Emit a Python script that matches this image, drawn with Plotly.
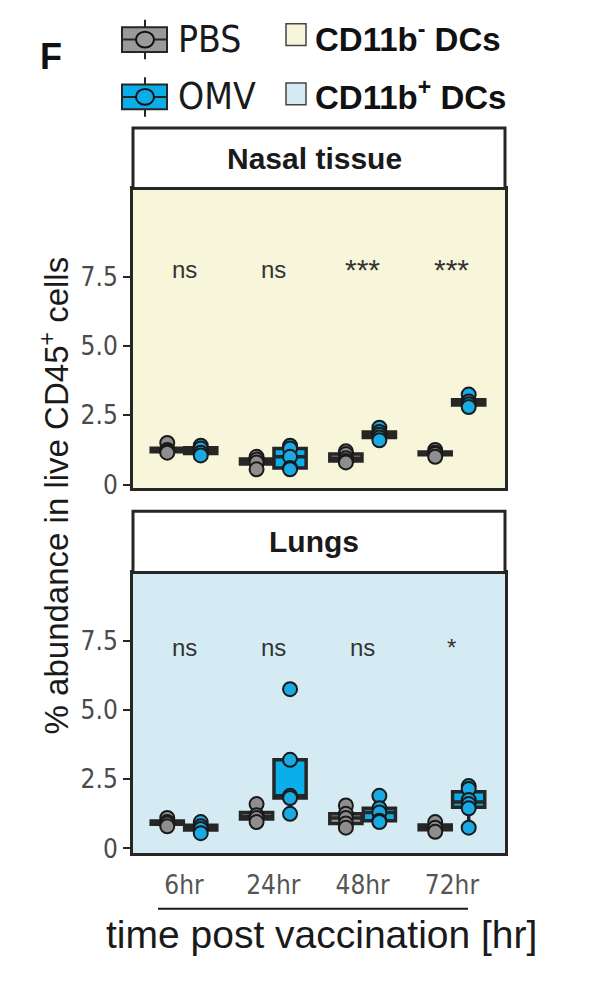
import numpy as np
import plotly.graph_objects as go

W, H = 599, 987

categories = ["6hr", "24hr", "48hr", "72hr"]

# % of live CD45+ cells, one list of replicates per time point
nasal_pbs = [[1.5, 1.25, 1.2, 1.15], [1.0, 0.9, 0.8, 0.55],
             [1.2, 1.1, 0.95, 0.85, 0.8], [1.25, 1.15, 1.1, 1.0]]
nasal_omv = [[1.4, 1.3, 1.15, 1.05], [1.4, 1.3, 1.0, 0.6, 0.55],
             [2.05, 1.9, 1.8, 1.7, 1.6], [3.25, 3.0, 2.9, 2.8]]
lung_pbs = [[1.1, 0.95, 0.9, 0.8], [1.6, 1.2, 1.1, 0.95],
            [1.55, 1.25, 1.1, 0.9, 0.75], [0.95, 0.75, 0.6]]
lung_omv = [[0.95, 0.8, 0.7, 0.55], [5.75, 3.2, 1.9, 1.82, 1.25],
            [1.9, 1.45, 1.3, 1.0, 0.95], [2.25, 2.15, 1.75, 1.6, 1.45, 0.75]]

nasal_sig = ["ns", "ns", "***", "***"]
lung_sig = ["ns", "ns", "ns", "*"]

y_ticks = [0, 2.5, 5.0, 7.5]
y_ticklabels = ["0", "2.5", "5.0", "7.5"]

PBS_FILL = "#9a9a9a"
PBS_PT = "#8e8e8e"
OMV_FILL = "#0aaee8"
OMV_PT = "#19a9e3"
EDGE = "#262626"
NASAL_BG = "#f7f5da"
LUNG_BG = "#d5ebf3"

NARROW = "Liberation Sans Narrow, DejaVu Sans Condensed, Liberation Sans, Arial"
SANS = "Liberation Sans, Arial, Helvetica"

DODGE = 0.1875
BOXW = 0.36


def px_x(p):
    return p / W


def px_y(p):
    return 1 - p / H


def box_stats(vals):
    v = np.sort(np.asarray(vals, float))
    q1, med, q3 = np.percentile(v, [25, 50, 75])
    iqr = q3 - q1
    lo = v[v >= q1 - 1.5 * iqr].min()
    hi = v[v <= q3 + 1.5 * iqr].max()
    return q1, med, q3, lo, hi


fig = go.Figure()


def add_group(data, offset, fill, ptcol, xa, ya):
    stats = np.array([box_stats(d) for d in data])
    pos = [i + offset for i in range(len(data))]
    fig.add_trace(go.Box(
        x=pos, q1=stats[:, 0], median=stats[:, 1], q3=stats[:, 2],
        lowerfence=stats[:, 3], upperfence=stats[:, 4],
        width=BOXW, whiskerwidth=0, fillcolor=fill,
        line=dict(color=EDGE, width=3.5), boxpoints=False,
        xaxis=xa, yaxis=ya, showlegend=False, hoverinfo="skip"))
    xs, ys = [], []
    for i, d in enumerate(data):
        xs += [i + offset] * len(d)
        ys += list(d)
    fig.add_trace(go.Scatter(
        x=xs, y=ys, mode="markers", xaxis=xa, yaxis=ya, showlegend=False,
        marker=dict(size=14, color=ptcol, line=dict(color="#1a1a1a", width=2))))


add_group(nasal_pbs, -DODGE, PBS_FILL, PBS_PT, "x", "y")
add_group(nasal_omv, DODGE, OMV_FILL, OMV_PT, "x", "y")
add_group(lung_pbs, -DODGE, PBS_FILL, PBS_PT, "x2", "y2")
add_group(lung_omv, DODGE, OMV_FILL, OMV_PT, "x2", "y2")

xrange = [-0.571, 3.594]
xdom = [px_x(133), px_x(505)]
frame = dict(showline=True, mirror=True, linecolor=EDGE, linewidth=3,
             showgrid=False, zeroline=False)

fig.update_layout(
    width=W, height=H, margin=dict(l=0, r=0, t=0, b=0),
    paper_bgcolor="white", plot_bgcolor="rgba(0,0,0,0)",
    xaxis=dict(domain=xdom, range=xrange, anchor="y", showticklabels=False,
               ticks="", **frame),
    yaxis=dict(domain=[px_y(494), px_y(190.7)], range=[-0.143, 10.69],
               anchor="x", tickvals=y_ticks, ticktext=y_ticklabels,
               ticks="outside", ticklen=7, tickwidth=2, tickcolor=EDGE,
               tickfont=dict(family=NARROW, size=26, color="#4a4a4a"), **frame),
    xaxis2=dict(domain=xdom, range=xrange, anchor="y2", tickvals=[0, 1, 2, 3],
                ticktext=categories, ticks="", ticklabelstandoff=6,
                tickfont=dict(family=NARROW, size=26, color="#555555"), **frame),
    yaxis2=dict(domain=[px_y(863), px_y(579)], range=[-0.179, 9.96],
                anchor="x2", tickvals=y_ticks, ticktext=y_ticklabels,
                ticks="outside", ticklen=7, tickwidth=2, tickcolor=EDGE,
                tickfont=dict(family=NARROW, size=26, color="#4a4a4a"), **frame),
)

shapes = [
    # panel backgrounds
    dict(type="rect", xref="x domain", yref="y domain", x0=0, x1=1, y0=0, y1=1,
         fillcolor=NASAL_BG, line_width=0, layer="below"),
    dict(type="rect", xref="x2 domain", yref="y2 domain", x0=0, x1=1, y0=0, y1=1,
         fillcolor=LUNG_BG, line_width=0, layer="below"),
    # facet strips
    dict(type="rect", xref="paper", yref="paper", x0=px_x(133), x1=px_x(505),
         y0=px_y(190.7), y1=px_y(129.5), fillcolor="white",
         line=dict(color=EDGE, width=3)),
    dict(type="rect", xref="paper", yref="paper", x0=px_x(133), x1=px_x(505),
         y0=px_y(579), y1=px_y(517), fillcolor="white",
         line=dict(color=EDGE, width=3)),
    # rule above the x title
    dict(type="line", xref="paper", yref="paper", x0=px_x(158), x1=px_x(468),
         y0=px_y(919), y1=px_y(919), line=dict(color="#1a1a1a", width=2)),
]

# legend keys for the treatment groups
for cy, fill in [(40, PBS_FILL), (98, OMV_FILL)]:
    shapes += [
        dict(type="line", xref="paper", yref="paper", x0=px_x(145), x1=px_x(145),
             y0=px_y(cy - 20), y1=px_y(cy + 20), line=dict(color=EDGE, width=2)),
        dict(type="rect", xref="paper", yref="paper", x0=px_x(122), x1=px_x(167),
             y0=px_y(cy + 12.5), y1=px_y(cy - 12.5), fillcolor=fill,
             line=dict(color=EDGE, width=2)),
        dict(type="line", xref="paper", yref="paper", x0=px_x(122), x1=px_x(167),
             y0=px_y(cy), y1=px_y(cy), line=dict(color=EDGE, width=2)),
        dict(type="circle", xref="paper", yref="paper", x0=px_x(136), x1=px_x(154),
             y0=px_y(cy + 8), y1=px_y(cy - 8), fillcolor=fill,
             line=dict(color="#111111", width=2)),
    ]
# legend keys for the cell populations
for cy, fill in [(35, NASAL_BG), (95, LUNG_BG)]:
    shapes.append(dict(type="rect", xref="paper", yref="paper",
                       x0=px_x(286), x1=px_x(306), y0=px_y(cy + 11), y1=px_y(cy - 11),
                       fillcolor=fill, line=dict(color="#444444", width=1.5)))
fig.update_layout(shapes=shapes)

ann = []


def text(x, y, s, size, family=SANS, color="#1a1a1a", xanchor="center", angle=0):
    ann.append(dict(x=px_x(x), y=px_y(y), xref="paper", yref="paper", text=s,
                    showarrow=False, xanchor=xanchor, yanchor="middle",
                    textangle=angle, font=dict(family=family, size=size, color=color)))


text(38, 57, "<b>F</b>", 36, xanchor="left", color="#111111")
text(176, 40, "PBS", 37, family=NARROW, xanchor="left")
text(176, 98, "OMV", 37, family=NARROW, xanchor="left")
text(313, 37, "<b>CD11b<sup>-</sup> DCs</b>", 33, xanchor="left", color="#111111")
text(313, 96, "<b>CD11b<sup>+</sup> DCs</b>", 33, xanchor="left", color="#111111")
text(314, 160, "<b>Nasal tissue</b>", 30)
text(314, 548, "<b>Lungs</b>", 30)
text(55, 501, "% abundance in live CD45<sup>+</sup> cells", 33, angle=-90)
text(321, 945, "time post vaccination [hr]", 39)


def sig_size(s):
    return 30 if s == "***" else 24


for i, s in enumerate(nasal_sig):
    ann.append(dict(x=i, y=7.75, xref="x", yref="y", text=s, showarrow=False,
                    font=dict(family=SANS, size=sig_size(s), color="#333333")))
for i, s in enumerate(lung_sig):
    ann.append(dict(x=i, y=7.25, xref="x2", yref="y2", text=s, showarrow=False,
                    font=dict(family=SANS, size=sig_size(s), color="#333333")))

fig.update_layout(annotations=ann)

fig.write_html("out.html")
